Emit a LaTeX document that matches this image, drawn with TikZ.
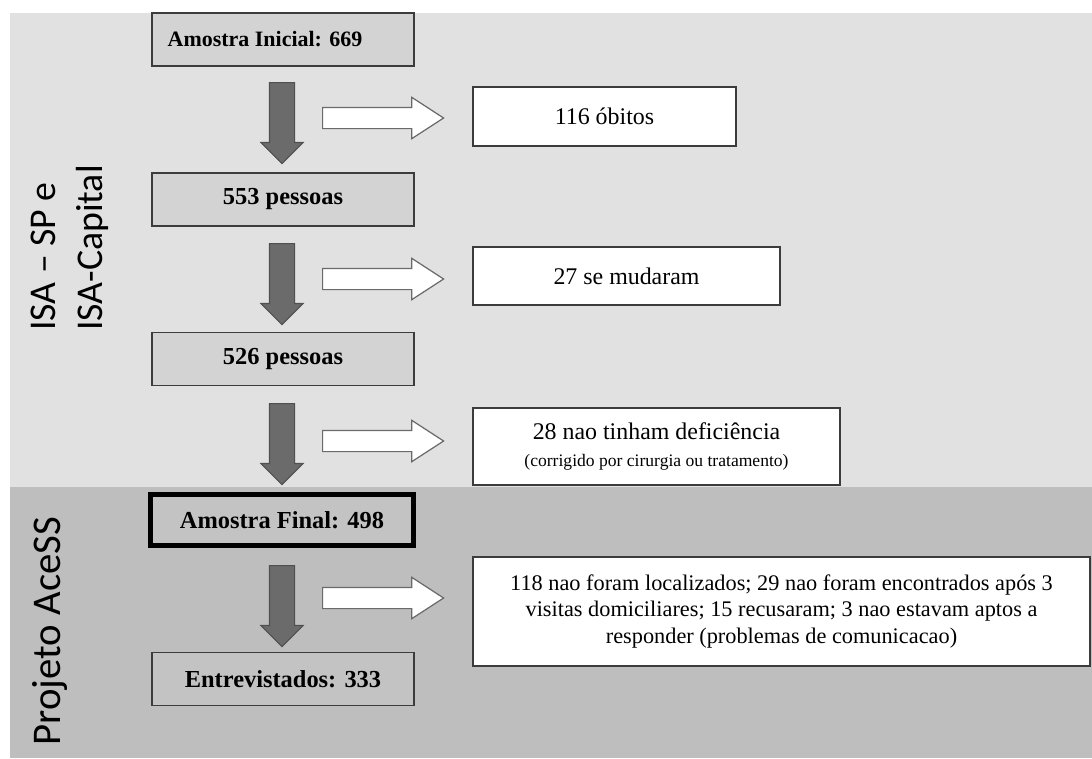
\documentclass[tikz,border=0pt]{standalone}
\usepackage{fontspec}
\setmainfont{Liberation Serif}
\newfontfamily\labelfont{Carlito}
\usetikzlibrary{shapes.arrows}

\definecolor{panelTop}{HTML}{E1E1E1}
\definecolor{panelLow}{HTML}{BEBEBE}
\definecolor{boxTop}{HTML}{D3D3D3}
\definecolor{boxLow}{HTML}{C3C3C3}
\definecolor{boxLine}{HTML}{3C3C3C}
\definecolor{arrowFill}{HTML}{6B6B6B}
\definecolor{arrowLine}{HTML}{505050}
\definecolor{hollowLine}{HTML}{6A6A6A}

\begin{document}
\begin{tikzpicture}[
    x=0.02cm, y=-0.02cm,
    stepbox/.style={
        draw=boxLine,
        fill=boxTop,
        line width=0.85pt,
        inner sep=0pt,
        align=center,
        minimum width=5.24cm,
        minimum height=1.06cm,
        font=\fontsize{13.9}{16}\selectfont\bfseries
    },
    finalbox/.style={
        stepbox,
        draw=black,
        fill=boxLow,
        line width=2.8pt,
        minimum width=5.26cm,
        minimum height=1.02cm
    },
    lossbox/.style={
        draw=boxLine,
        fill=white,
        line width=0.85pt,
        inner sep=0pt,
        align=center,
        font=\fontsize{13.6}{16}\selectfont
    },
    downarr/.style={
        single arrow,
        shape border rotate=270,
        anchor=tail,
        draw=arrowLine,
        fill=arrowFill,
        line width=0.6pt,
        inner sep=0.24cm,
        minimum height=1.62cm,
        minimum width=0.82cm,
        single arrow head extend=0.17cm
    },
    rightarr/.style={
        single arrow,
        anchor=tail,
        draw=hollowLine,
        fill=white,
        line width=0.7pt,
        inner sep=0.2cm,
        minimum height=2.42cm,
        minimum width=0.80cm,
        single arrow head extend=0.2cm,
        single arrow tip angle=66
    },
    sidelabel/.style={
        rotate=90,
        inner sep=0pt,
        align=left,
        font=\labelfont\fontsize{21.5}{26.6}\selectfont
    }
]

\useasboundingbox (0,0) rectangle (1092,758);

% Panels
\fill[panelTop] (10,13) rectangle (1092,487);
\fill[panelLow] (10,487) rectangle (1092,758);

% Side labels
\node[sidelabel] (isa) at (70,248) {ISA – SP e\\ISA-Capital};
\node[sidelabel, font=\labelfont\fontsize{23.2}{28}\selectfont] (aces) at (50,631) {Projeto AceSS};

% Main flow
\node[stepbox] (ini) at (283,39.5) {\fontsize{12.5}{15}\selectfont Amostra Inicial: 669\hspace*{0.72cm}};
\node[stepbox] (p553) at (283,199.5) {553 pessoas};
\node[stepbox] (p526) at (283,359) {526 pessoas};
\node[finalbox] (fin) at (282,520) {Amostra Final: 498};
\node[stepbox, fill=boxLow] (entr) at (283,679) {Entrevistados: 333};

% Losses
\node[lossbox, minimum width=5.26cm, minimum height=1.18cm] (obit) at (604.5,116.5) {116 óbitos};
\node[lossbox, minimum width=6.14cm, minimum height=1.16cm] (mud) at (626.5,276) {27 se mudaram};
\node[lossbox, minimum width=7.34cm, minimum height=1.54cm] (defi) at (656.5,446.5)
    {28 nao tinham deficiência\\[-1pt]{\fontsize{10}{12}\selectfont(corrigido por cirurgia ou tratamento)}};
\node[lossbox, minimum width=12.34cm, minimum height=2.18cm, font=\fontsize{12.7}{15.3}\selectfont] (loc) at (781.5,611.5)
    {118 nao foram localizados; 29 nao foram encontrados após 3\\visitas domiciliares; 15 recusaram; 3 nao estavam aptos a\\responder (problemas de comunicacao)};

% Block arrows (placed by their tails)
\node[downarr] (d1) at (282,82) {};
\node[downarr] (d2) at (282,243) {};
\node[downarr] (d3) at (282,403) {};
\node[downarr] (d4) at (282,565) {};
\node[rightarr] (r1) at (322,118) {};
\node[rightarr] (r2) at (322,279) {};
\node[rightarr] (r3) at (322,441) {};
\node[rightarr] (r4) at (322,598) {};

\end{tikzpicture}
\end{document}
